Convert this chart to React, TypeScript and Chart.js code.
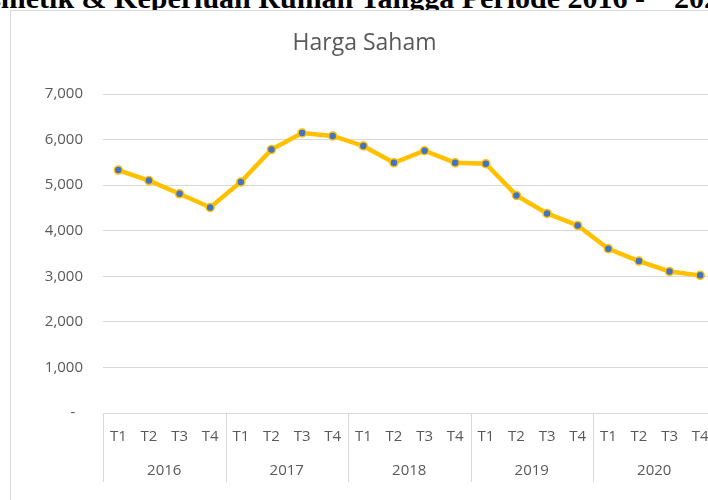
import React, { useEffect, useRef } from "react";
import { Chart, registerables } from "chart.js";

Chart.register(...registerables);

const quarters = [
  "T1", "T2", "T3", "T4",
  "T1", "T2", "T3", "T4",
  "T1", "T2", "T3", "T4",
  "T1", "T2", "T3", "T4",
  "T1", "T2", "T3", "T4",
];
const years = ["2016", "2017", "2018", "2019", "2020"];
const hargaSaham = [
  5330, 5100, 4810, 4510,
  5070, 5780, 6145, 6080,
  5860, 5490, 5755, 5490,
  5470, 4775, 4380, 4115,
  3605, 3335, 3105, 3020,
];
const yTicks = { min: 0, max: 7000, step: 1000 };

const FONT = "'Open Sans', 'Noto Sans', sans-serif";
const GRAY = "#595959";
const GRID = "#d9d9d9";

const groupLines = {
  id: "groupLines",
  afterDraw(chart: any) {
    const x = chart.scales.x;
    const x2 = chart.scales.x2;
    const ctx = chart.ctx;
    const step = x.getPixelForValue(1) - x.getPixelForValue(0);
    const per = quarters.length / years.length;
    ctx.save();
    ctx.strokeStyle = GRID;
    ctx.lineWidth = 1;
    for (let g = 0; g <= years.length; g++) {
      const px = Math.round(x.getPixelForValue(0) - step / 2 + g * per * step) + 0.5;
      ctx.beginPath();
      ctx.moveTo(px, x.top);
      ctx.lineTo(px, x2.bottom + 1);
      ctx.stroke();
    }
    ctx.restore();
  },
};

export default function App() {
  const ref = useRef<HTMLCanvasElement>(null);

  useEffect(() => {
    if (!ref.current) return;
    const chart = new Chart(ref.current, {
      type: "line",
      data: {
        labels: quarters,
        datasets: [
          {
            label: "Harga Saham",
            data: hargaSaham,
            xAxisID: "x",
            borderColor: "#FFC000",
            borderWidth: 4.5,
            tension: 0,
            pointRadius: 4,
            pointBackgroundColor: "#4472C4",
            pointBorderColor: "#FFC000",
            pointBorderWidth: 1.5,
            fill: false,
          },
        ],
      },
      options: {
        animation: false,
        responsive: false,
        devicePixelRatio: 1,
        layout: { padding: { left: 0, right: 3, top: 0, bottom: 19 } },
        plugins: {
          legend: { display: false },
          tooltip: { enabled: false },
          title: {
            display: true,
            text: "Harga Saham",
            color: GRAY,
            font: { family: FONT, size: 23, weight: "normal", lineHeight: 1.2 },
            padding: { top: 19, bottom: 36.4 },
          },
        },
        scales: {
          x: {
            type: "category",
            position: "bottom",
            offset: true,
            grid: { display: false },
            border: { display: true, color: GRID, width: 1 },
            ticks: {
              color: GRAY,
              font: { family: FONT, size: 15, lineHeight: 1.2 },
              padding: 7,
              maxRotation: 0,
              autoSkip: false,
            },
          },
          x2: {
            type: "category",
            labels: years,
            position: "bottom",
            offset: true,
            grid: { display: false },
            border: { display: false },
            ticks: {
              color: GRAY,
              font: { family: FONT, size: 15, lineHeight: 1.2 },
              padding: 1,
              maxRotation: 0,
              autoSkip: false,
            },
          },
          y: {
            min: yTicks.min,
            max: yTicks.max,
            afterFit: (scale: any) => {
              scale.width = 92;
            },
            grid: { color: GRID, drawTicks: false, lineWidth: 1 },
            border: { display: false },
            ticks: {
              stepSize: yTicks.step,
              color: GRAY,
              padding: 20,
              font: { family: FONT, size: 15 },
              callback: (v: any) =>
                Number(v) === 0 ? "-  " : Number(v).toLocaleString("en-US"),
            },
          },
        },
      },
      plugins: [groupLines],
    });
    return () => chart.destroy();
  }, []);

  const capFont = "bold 30px 'Liberation Serif', 'Times New Roman', serif";

  return (
    <div
      style={{
        position: "fixed",
        left: 0,
        top: 0,
        width: 708,
        height: 500,
        overflow: "hidden",
        background: "#fff",
      }}
    >
      <div
        style={{
          position: "absolute",
          right: 63,
          top: -17,
          font: capFont,
          lineHeight: "30px",
          whiteSpace: "nowrap",
          color: "#000",
        }}
      >
        Sub Sektor Kosmetik &amp; Keperluan Rumah Tangga Periode 2016 -
      </div>
      <div
        style={{
          position: "absolute",
          left: 674,
          top: -17,
          font: capFont,
          lineHeight: "30px",
          whiteSpace: "nowrap",
          color: "#000",
        }}
      >
        2020
      </div>
      <div
        style={{
          position: "absolute",
          left: 10,
          top: 10,
          width: 712,
          height: 530,
          border: `1px solid ${GRID}`,
          boxSizing: "border-box",
          background: "#fff",
        }}
      >
        <canvas
          ref={ref}
          width={710}
          height={489}
          style={{ display: "block", width: 710, height: 489 }}
        />
      </div>
    </div>
  );
}
